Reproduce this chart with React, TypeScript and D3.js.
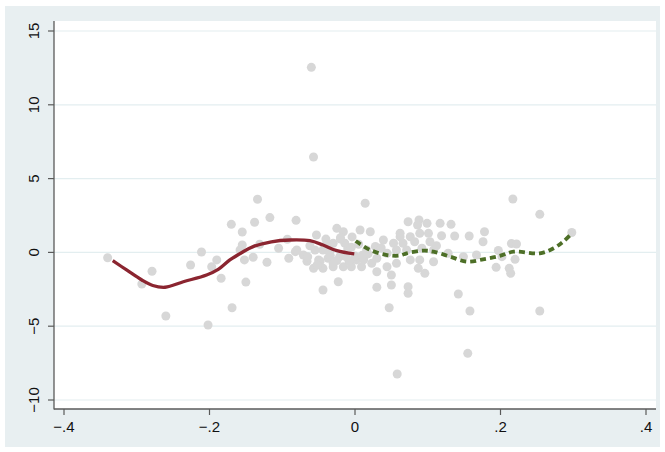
import React, { useEffect, useRef } from "react";
import * as d3 from "d3";

// scatter points (x, y)
const scatterX = [
  -0.340, -0.293, -0.279, -0.260, -0.226, -0.211, -0.197, -0.190, -0.184, -0.202,
  -0.169, -0.170, -0.155, -0.134, -0.138, -0.117, -0.155, -0.158, -0.152, -0.140,
  -0.150, -0.121, -0.131, -0.105, -0.091, -0.081, -0.093, -0.082, -0.060, -0.057,
  0.014, -0.053, -0.025, -0.016, 0.007, 0.021, 0.039, 0.062, -0.080, -0.071,
  -0.055, -0.044, -0.030, -0.014, 0.016, 0.030, 0.044, -0.050, -0.037, -0.021,
  0.002, -0.057, -0.044, -0.030, -0.016, -0.005, 0.009, 0.023, 0.044, 0.057,
  0.030, 0.050, -0.023, -0.044, 0.030, 0.050, 0.073, 0.088, 0.086, 0.099,
  0.117, 0.132, 0.076, 0.089, 0.101, 0.119, 0.137, 0.157, 0.178, 0.176,
  0.053, 0.066, 0.082, 0.103, 0.057, 0.071, 0.092, 0.108, 0.128, 0.149,
  0.167, 0.076, 0.089, 0.108, 0.087, 0.096, 0.073, 0.073, 0.142, 0.217,
  0.254, 0.298, 0.215, 0.222, 0.197, 0.202, 0.220, 0.194, 0.212, 0.214,
  0.158, 0.254, 0.047, 0.155, 0.058, -0.062, -0.034, -0.010, 0.000, -0.020,
  0.028, -0.004, -0.040, 0.062, 0.112, -0.066, -0.008, 0.012,
  -0.048, -0.035, -0.025, -0.012, -0.005, 0.010, -0.065, -0.020, 0.005, -0.040,
  -0.030, -0.052, 0.018, 0.036,
];
const scatterY = [
  -0.36, -2.14, -1.28, -4.31, -0.85, 0.03, -0.97, -0.51, -1.75, -4.92,
  -3.75, 1.90, 1.38, 3.60, 2.04, 2.36, 0.50, 0.16, -0.51, -0.33,
  -2.01, -0.67, 0.55, 0.28, -0.40, 2.17, 0.89, 0.05, 12.54, 6.46,
  3.33, 1.18, 1.63, 1.40, 1.52, 1.40, 0.84, 1.06, 0.16, -0.18,
  0.16, 0.16, 0.62, 0.62, 0.16, -0.40, -0.06, -0.51, -0.40, -0.29,
  -0.51, -1.08, -1.08, -0.97, -0.97, -0.97, -0.97, -0.74, -0.97, -0.74,
  -1.31, -1.53, -1.99, -2.55, -2.36, -2.21, 2.08, 2.20, 1.86, 1.97,
  1.97, 1.90, 1.06, 1.29, 1.29, 1.13, 1.11, 1.11, 1.40, 0.72,
  0.62, 0.62, 0.72, 0.72, 0.16, 0.16, 0.28, 0.16, -0.06, -0.29,
  -0.18, -0.51, -0.51, -0.63, -1.08, -1.42, -2.32, -2.77, -2.82, 3.62,
  2.58, 1.35, 0.60, 0.57, 0.13, -0.29, -0.47, -1.01, -1.08, -1.42,
  -3.97, -3.97, -3.75, -6.84, -8.24, 0.45, -0.20, 0.25, -0.25, 1.00,
  0.40, 1.05, 0.90, 1.30, 0.45, -0.60, -0.60, -0.50,
  -0.60, 0.00, -0.55, -0.30, 0.35, -0.20, -0.30, 0.90, 0.55, 0.50,
  -0.75, -0.85, -0.10, 0.30,
];

// left fit (solid)
const fitLeftX = [-0.333, -0.314, -0.293, -0.278, -0.261, -0.236, -0.204, -0.188, -0.172, -0.156, -0.140, -0.115, -0.089, -0.062, -0.044, -0.025, -0.001];
const fitLeftY = [-0.56, -1.19, -1.87, -2.24, -2.36, -1.99, -1.53, -1.15, -0.51, -0.02, 0.39, 0.72, 0.84, 0.79, 0.50, 0.12, -0.10];

// right fit (dashed)
const fitRightX = [0.001, 0.021, 0.044, 0.062, 0.071, 0.094, 0.108, 0.131, 0.154, 0.176, 0.199, 0.218, 0.254, 0.273, 0.286, 0.298];
const fitRightY = [0.77, 0.16, -0.18, -0.21, -0.06, 0.12, 0.05, -0.29, -0.63, -0.47, -0.24, 0.05, -0.06, 0.28, 0.72, 1.29];

const xTicks = [-0.4, -0.2, 0, 0.2, 0.4];
const xTickLabels = ["\u2212.4", "\u2212.2", "0", ".2", ".4"];
const yTicks = [-10, -5, 0, 5, 10, 15];
const yTickLabels = ["\u221210", "\u22125", "0", "5", "10", "15"];

const App: React.FC = () => {
  const svgRef = useRef<SVGSVGElement | null>(null);

  useEffect(() => {
    if (!svgRef.current) return;
    const svg = d3.select(svgRef.current);
    svg.selectAll("*").remove();

    const plot = { left: 54, right: 656, top: 21, bottom: 409 };
    const x = d3.scaleLinear().domain([-0.4, 0.4]).range([64, 646]);
    const y = d3.scaleLinear().domain([-10, 15]).range([400, 31]);
    const font = "'Liberation Sans', Arial, sans-serif";

    // outer + plot region
    svg.append("rect").attr("x", 5).attr("y", 6).attr("width", 655).attr("height", 441).attr("fill", "#e8eff1");
    svg.append("rect")
      .attr("x", plot.left).attr("y", plot.top)
      .attr("width", plot.right - plot.left).attr("height", plot.bottom - plot.top)
      .attr("fill", "#ffffff");

    // grid
    svg.append("g").selectAll("line").data(yTicks).enter().append("line")
      .attr("x1", plot.left).attr("x2", plot.right)
      .attr("y1", d => y(d)).attr("y2", d => y(d))
      .attr("stroke", "#e3eef0").attr("stroke-width", 1.2);

    // scatter
    const pts = scatterX.map((v, i) => ({ x: v, y: scatterY[i] }));
    svg.append("g").selectAll("circle").data(pts).enter().append("circle")
      .attr("cx", d => x(d.x)).attr("cy", d => y(d.y)).attr("r", 4.5)
      .attr("fill", "#d7d7d7");

    const line = d3.line<[number, number]>()
      .x(d => x(d[0])).y(d => y(d[1]))
      .curve(d3.curveCatmullRom.alpha(0.5));

    svg.append("path")
      .attr("d", line(fitLeftX.map((v, i) => [v, fitLeftY[i]] as [number, number])))
      .attr("fill", "none").attr("stroke", "#8b2530").attr("stroke-width", 3.3);

    svg.append("path")
      .attr("d", line(fitRightX.map((v, i) => [v, fitRightY[i]] as [number, number])))
      .attr("fill", "none").attr("stroke", "#4d6f27").attr("stroke-width", 3.8)
      .attr("stroke-dasharray", "6,4");

    // axes
    const axisColor = "#5a5a5a";
    svg.append("line").attr("x1", plot.left).attr("x2", plot.left)
      .attr("y1", plot.top).attr("y2", plot.bottom + 0.5)
      .attr("stroke", axisColor).attr("stroke-width", 1.3);
    svg.append("line").attr("x1", plot.left).attr("x2", plot.right)
      .attr("y1", plot.bottom).attr("y2", plot.bottom)
      .attr("stroke", axisColor).attr("stroke-width", 1.3);

    svg.append("g").selectAll("line").data(xTicks).enter().append("line")
      .attr("x1", d => x(d)).attr("x2", d => x(d))
      .attr("y1", plot.bottom).attr("y2", plot.bottom + 6)
      .attr("stroke", axisColor).attr("stroke-width", 1.2);
    svg.append("g").selectAll("text").data(xTicks).enter().append("text")
      .attr("x", d => x(d)).attr("y", 432)
      .attr("text-anchor", "middle")
      .style("font-family", font).style("font-size", "15px").attr("fill", "#111")
      .text((d, i) => xTickLabels[i]);

    svg.append("g").selectAll("line").data(yTicks).enter().append("line")
      .attr("x1", plot.left - 6).attr("x2", plot.left)
      .attr("y1", d => y(d)).attr("y2", d => y(d))
      .attr("stroke", axisColor).attr("stroke-width", 1.2);
    svg.append("g").selectAll("text").data(yTicks).enter().append("text")
      .attr("transform", d => `translate(38.5,${y(d)}) rotate(-90)`)
      .attr("text-anchor", "middle")
      .style("font-family", font).style("font-size", "15px").attr("fill", "#111")
      .text((d, i) => yTickLabels[i]);
  }, []);

  return (
    <svg ref={svgRef} width={665} height={452}
      style={{ position: "absolute", left: 0, top: 0, background: "#ffffff" }} />
  );
};

export default App;
